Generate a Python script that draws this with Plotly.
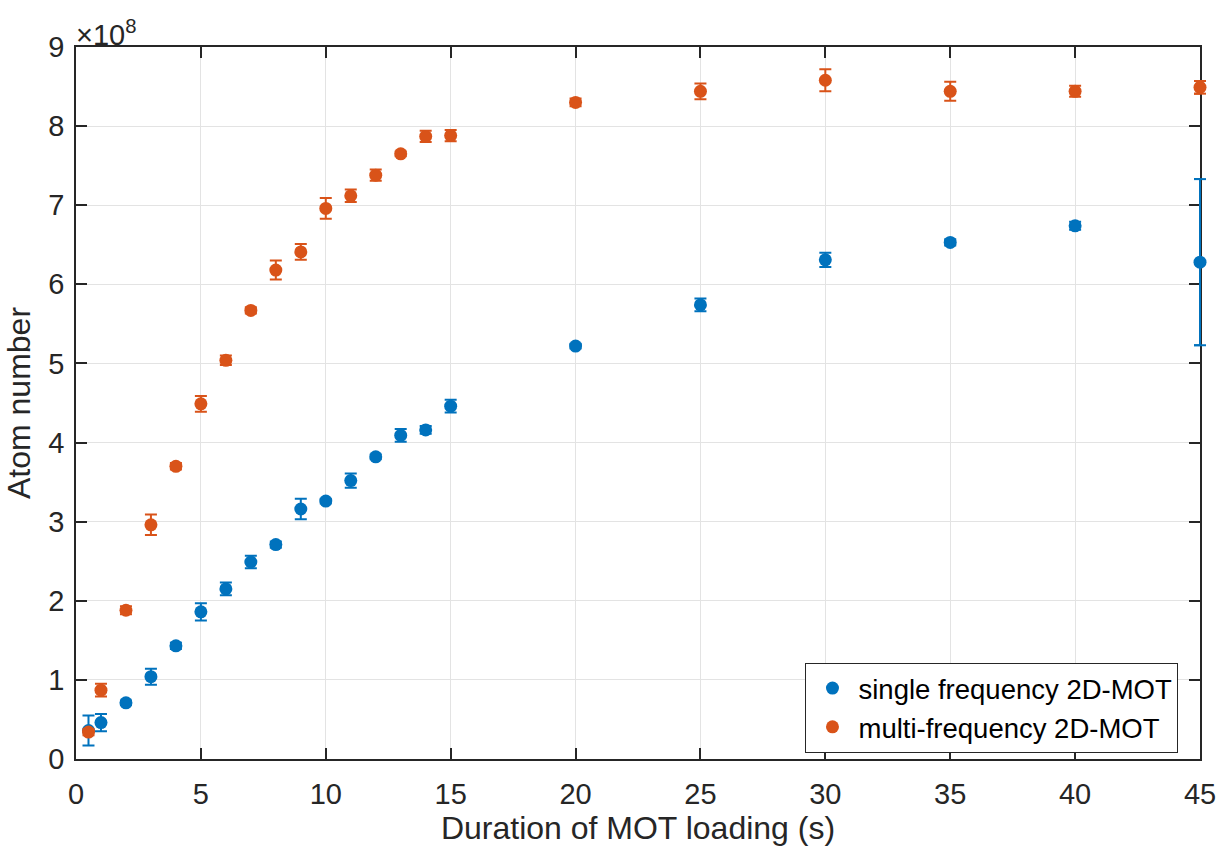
import plotly.graph_objects as go

x_vals = [0.5, 1, 2, 3, 4, 5, 6, 7, 8, 9, 10, 11, 12, 13, 14, 15, 20, 25, 30, 35, 40, 45]

single_y = [0.36, 0.46, 0.71, 1.04, 1.43, 1.86, 2.15, 2.49, 2.71, 3.16, 3.26, 3.52, 3.82, 4.09, 4.16, 4.46,
            5.22, 5.74, 6.31, 6.53, 6.74, 6.28]
single_err = [0.19, 0.11, 0.03, 0.10, 0.04, 0.11, 0.08, 0.08, 0.04, 0.13, 0.03, 0.09, 0.03, 0.08, 0.05, 0.08,
              0.03, 0.08, 0.09, 0.04, 0.05, 1.05]

multi_y = [0.34, 0.87, 1.88, 2.96, 3.70, 4.49, 5.04, 5.67, 6.18, 6.41, 6.96, 7.12, 7.38, 7.65, 7.87, 7.88,
           8.30, 8.44, 8.58, 8.44, 8.44, 8.49]
multi_err = [0.04, 0.08, 0.05, 0.13, 0.04, 0.10, 0.06, 0.04, 0.12, 0.10, 0.13, 0.08, 0.07, 0.03, 0.07, 0.07,
             0.05, 0.10, 0.14, 0.12, 0.07, 0.08]

x_ticks = [0, 5, 10, 15, 20, 25, 30, 35, 40, 45]
y_ticks = [0, 1, 2, 3, 4, 5, 6, 7, 8, 9]
x_range = [0, 45]
y_range = [0, 9]

blue = "#0072BD"
orange = "#D95319"

fig = go.Figure()
fig.add_trace(go.Scatter(
    x=x_vals, y=single_y, mode="markers", name="single frequency 2D-MOT",
    marker=dict(color=blue, size=13),
    error_y=dict(type="data", array=single_err, color=blue, thickness=2, width=6),
    cliponaxis=False,
))
fig.add_trace(go.Scatter(
    x=x_vals, y=multi_y, mode="markers", name="multi-frequency 2D-MOT",
    marker=dict(color=orange, size=13),
    error_y=dict(type="data", array=multi_err, color=orange, thickness=2, width=6),
    cliponaxis=False,
))

# Error bars sitting exactly on the plot edge get clipped by the plot area;
# redraw those (unclipped) in paper coordinates derived from the data.
def to_px(v, r):
    return (v - r[0]) / (r[1] - r[0])

cap_half = 6 / 1124  # cap half-width in paper fraction
for xs, ys, es, col in [(x_vals, single_y, single_err, blue), (x_vals, multi_y, multi_err, orange)]:
    for xv, yv, ev in zip(xs, ys, es):
        if xv >= x_range[1] or xv <= x_range[0]:
            px = to_px(xv, x_range)
            lo, hi = to_px(yv - ev, y_range), to_px(yv + ev, y_range)
            fig.add_shape(type="line", xref="paper", yref="paper", x0=px, x1=px, y0=lo, y1=hi,
                          line=dict(color=col, width=2), layer="above")
            for yy in (lo, hi):
                fig.add_shape(type="line", xref="paper", yref="paper", x0=px - cap_half, x1=px + cap_half,
                              y0=yy, y1=yy, line=dict(color=col, width=2), layer="above")

axis_common = dict(
    showline=True, linecolor="#262626", linewidth=1.5, mirror="ticks",
    ticks="inside", ticklen=11, tickcolor="#262626", tickwidth=1.5,
    showgrid=True, gridcolor="#E3E3E3", gridwidth=1,
    zeroline=False, layer="below traces",
    tickfont=dict(size=29, color="#262626"),
)

fig.update_layout(
    width=1227, height=857,
    margin=dict(l=76, r=27, t=47, b=98),
    paper_bgcolor="white", plot_bgcolor="white",
    font=dict(family="Liberation Sans, Arial, sans-serif", color="#262626"),
    xaxis=dict(range=x_range, tickvals=x_ticks, ticklabelstandoff=8,
               title=dict(text="Duration of MOT loading (s)", font=dict(size=32), standoff=6),
               **axis_common),
    yaxis=dict(range=y_range, tickvals=y_ticks, ticklabelstandoff=4,
               title=dict(text="Atom number", font=dict(size=32), standoff=8),
               **axis_common),
    legend=dict(x=0.649, y=0.072, xanchor="left", yanchor="middle",
                bordercolor="#262626", borderwidth=1, bgcolor="white",
                font=dict(size=27.5, color="#000000"), itemwidth=42,
                tracegroupgap=0),
    showlegend=True,
)

fig.add_annotation(
    xref="paper", yref="paper", x=0.0, y=1.0, xanchor="left", yanchor="bottom",
    text="×10<sup>8</sup>", showarrow=False, font=dict(size=29, color="#262626"),
    xshift=-2, yshift=-6,
)

fig.write_html("out.html")
